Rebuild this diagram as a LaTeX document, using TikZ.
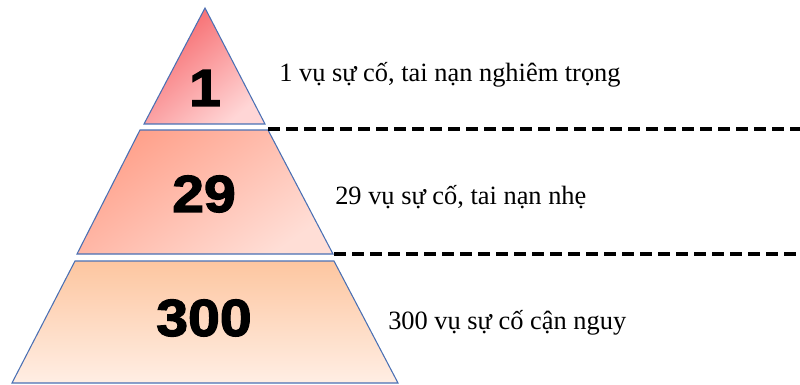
\documentclass[tikz,border=0pt]{standalone}
\usepackage{fontspec}
\setmainfont{Liberation Serif}
\newfontfamily\numfont[FakeBold=2.5,FakeStretch=1.1]{Liberation Sans Bold}
\definecolor{edge}{RGB}{74,112,180}
\definecolor{topdark}{RGB}{246,100,104}
\definecolor{toplight}{RGB}{255,214,214}
\definecolor{middark}{RGB}{255,160,138}
\definecolor{midlight}{RGB}{255,222,214}
\definecolor{botdark}{RGB}{253,198,160}
\definecolor{botlight}{RGB}{255,238,228}
\begin{document}
\begin{tikzpicture}[x=0.75pt,y=-0.75pt,
  layer/.style={draw=edge, line width=0.8pt},
  sep/.style={line width=2.3pt, dash pattern=on 9pt off 4.5pt},
  num/.style={font=\numfont\fontsize{39}{40}\selectfont, inner sep=0pt},
  lbl/.style={font=\fontsize{19.8}{22}\selectfont, anchor=base west, inner sep=0pt}]
\useasboundingbox (0,0) rectangle (800,385);
% corners
\coordinate (apex) at (205,8);
\coordinate (t1l) at (144,124); \coordinate (t1r) at (265,124);
\coordinate (m1l) at (140,130); \coordinate (m1r) at (268,130);
\coordinate (m2l) at (77,254);  \coordinate (m2r) at (333,254);
\coordinate (b1l) at (75,261);  \coordinate (b1r) at (334,261);
\coordinate (b2l) at (12,383);  \coordinate (b2r) at (398,383);
% top triangle
\shade[top color=topdark, bottom color=toplight, shading angle=40]
  (apex) -- (t1r) -- (t1l) -- cycle;
\draw[layer] (apex) -- (t1r) -- (t1l) -- cycle;
% middle
\shade[top color=middark, bottom color=midlight, shading angle=35]
  (m1l) -- (m1r) -- (m2r) -- (m2l) -- cycle;
\draw[layer] (m1l) -- (m1r) -- (m2r) -- (m2l) -- cycle;
% bottom
\shade[top color=botdark, bottom color=botlight]
  (b1l) -- (b1r) -- (b2r) -- (b2l) -- cycle;
\draw[layer] (b1l) -- (b1r) -- (b2r) -- (b2l) -- cycle;
% dashed separators
\coordinate (d1s) at (268,129); \coordinate (d1e) at (800,129);
\coordinate (d2s) at (334,254); \coordinate (d2e) at (800,254);
\draw[sep] (d1s) -- (d1e);
\draw[sep] (d2s) -- (d2e);
% numbers
\node[num] (n1) at (205,88) {1};
\node[num] (n29) at (204,194) {29};
\node[num] (n300) at (204,318) {300};
% labels
\node[lbl] (l1) at (279,82) {1 vụ sự cố, tai nạn nghiêm trọng};
\node[lbl] (l29) at (335,204) {29 vụ sự cố, tai nạn nhẹ};
\node[lbl] (l300) at (388,329) {300 vụ sự cố cận nguy};
\end{tikzpicture}
\end{document}
